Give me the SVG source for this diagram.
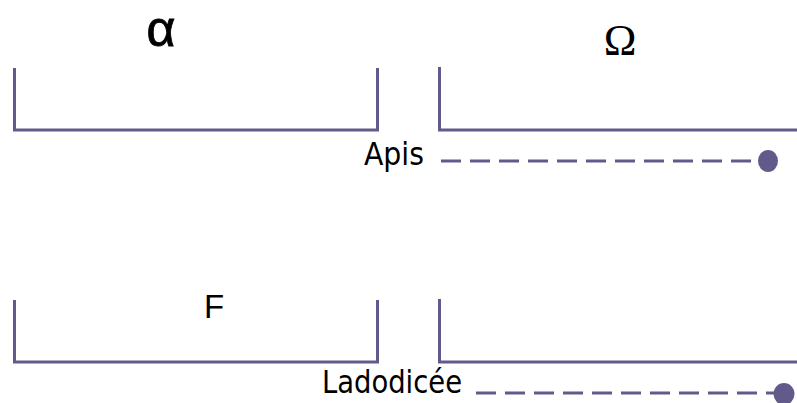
<svg xmlns="http://www.w3.org/2000/svg" width="797" height="403" viewBox="0 0 797 403">
<style>
.br{fill:none;stroke:#625a8a;stroke-width:3}
.dash{fill:none;stroke:#625a8a;stroke-width:3;stroke-dasharray:20 9}
.dot{fill:#625a8a}
.lbl{font-family:"Liberation Sans",Arial,sans-serif;fill:#000}
.nm{font-family:"DejaVu Sans Condensed","DejaVu Sans",sans-serif;fill:#000;font-size:32px}
</style>
<rect width="797" height="403" fill="#fff"/>
<g id="alpha"><text class="lbl" x="161" y="46" font-size="50" text-anchor="middle" stroke="#000" stroke-width="0.8">α</text></g>
<g id="omega"><text x="620" y="55" font-family="'Liberation Serif','Times New Roman',serif" font-size="44" text-anchor="middle">Ω</text></g>
<g id="box-top-left"><path class="br" d="M14.5 68 V130 H377.5 V68"/></g>
<g id="box-top-right"><path class="br" d="M439.5 67 V130 H797"/></g>
<g id="F"><text class="lbl" x="214" y="318" font-size="33" text-anchor="middle">F</text></g>
<g id="box-bottom-left"><path class="br" d="M14.5 300 V362 H377.5 V300"/></g>
<g id="box-bottom-right"><path class="br" d="M439.5 299 V362 H797"/></g>
<g id="apis"><text class="nm" x="364" y="165" textLength="60" lengthAdjust="spacingAndGlyphs">Apis</text><ellipse class="dot" cx="768" cy="161" rx="10" ry="11"/></g>
<g id="ladodicee"><text class="nm" x="322" y="393" textLength="140" lengthAdjust="spacingAndGlyphs">Ladodicée</text><ellipse class="dot" cx="784" cy="394" rx="10.5" ry="11"/></g>
<g id="connectors">
<path class="dash" d="M441 161 H760"/>
<path class="dash" d="M476 393 H776"/>
</g>
</svg>
